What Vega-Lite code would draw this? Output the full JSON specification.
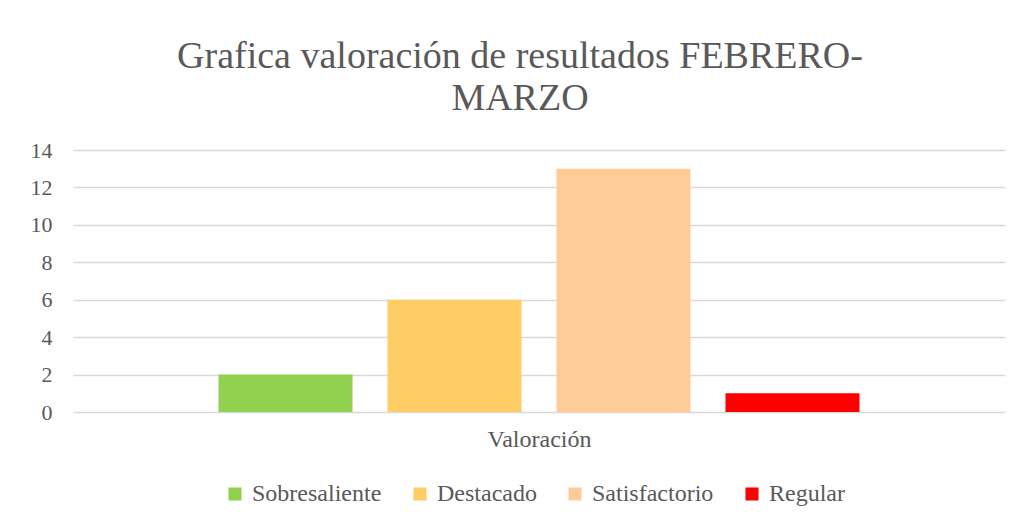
{
  "$schema": "https://vega.github.io/schema/vega-lite/v6.json",
  "width": 932,
  "height": 262,
  "autosize": {"type": "none"},
  "padding": {"left": 73, "top": 150, "right": 21, "bottom": 117},
  "background": "white",
  "title": {
    "text": ["Grafica valoración de resultados FEBRERO-", "MARZO"],
    "font": "Liberation Serif",
    "fontSize": 38,
    "fontWeight": "normal",
    "color": "#595959",
    "anchor": "middle",
    "dx": -19,
    "offset": 21,
    "lineHeight": 42
  },
  "data": {
    "values": [
      {"categoria": "Sobresaliente", "valor": 2},
      {"categoria": "Destacado", "valor": 6},
      {"categoria": "Satisfactorio", "valor": 13},
      {"categoria": "Regular", "valor": 1}
    ]
  },
  "mark": {"type": "bar"},
  "encoding": {
    "x": {
      "field": "categoria",
      "type": "nominal",
      "sort": ["Sobresaliente", "Destacado", "Satisfactorio", "Regular"],
      "scale": {"paddingInner": 0.207, "paddingOuter": 0.861},
      "axis": {
        "title": "Valoración",
        "labels": false,
        "ticks": false,
        "domain": false,
        "titleFont": "Liberation Serif",
        "titleFontSize": 24,
        "titleFontWeight": "normal",
        "titleColor": "#595959",
        "titlePadding": 15
      }
    },
    "y": {
      "field": "valor",
      "type": "quantitative",
      "scale": {"domain": [0, 14], "nice": false},
      "axis": {
        "title": null,
        "values": [0, 2, 4, 6, 8, 10, 12, 14],
        "ticks": false,
        "domain": false,
        "labelFont": "Liberation Serif",
        "labelFontSize": 22,
        "labelColor": "#595959",
        "labelPadding": 21,
        "gridColor": "#D9D9D9",
        "gridWidth": 1.5
      }
    },
    "color": {
      "field": "categoria",
      "type": "nominal",
      "sort": ["Sobresaliente", "Destacado", "Satisfactorio", "Regular"],
      "scale": {
        "domain": ["Sobresaliente", "Destacado", "Satisfactorio", "Regular"],
        "range": ["#92D050", "#FFCC66", "#FFCC99", "#FF0000"]
      },
      "legend": {
        "title": null,
        "orient": "none",
        "direction": "horizontal",
        "legendX": 150,
        "legendY": 332,
        "symbolType": "square",
        "symbolSize": 170,
        "symbolStrokeWidth": 0,
        "labelFont": "Liberation Serif",
        "labelFontSize": 24,
        "labelColor": "#595959",
        "labelOffset": 5,
        "columnPadding": 26
      }
    }
  },
  "config": {
    "view": {"stroke": null}
  }
}
